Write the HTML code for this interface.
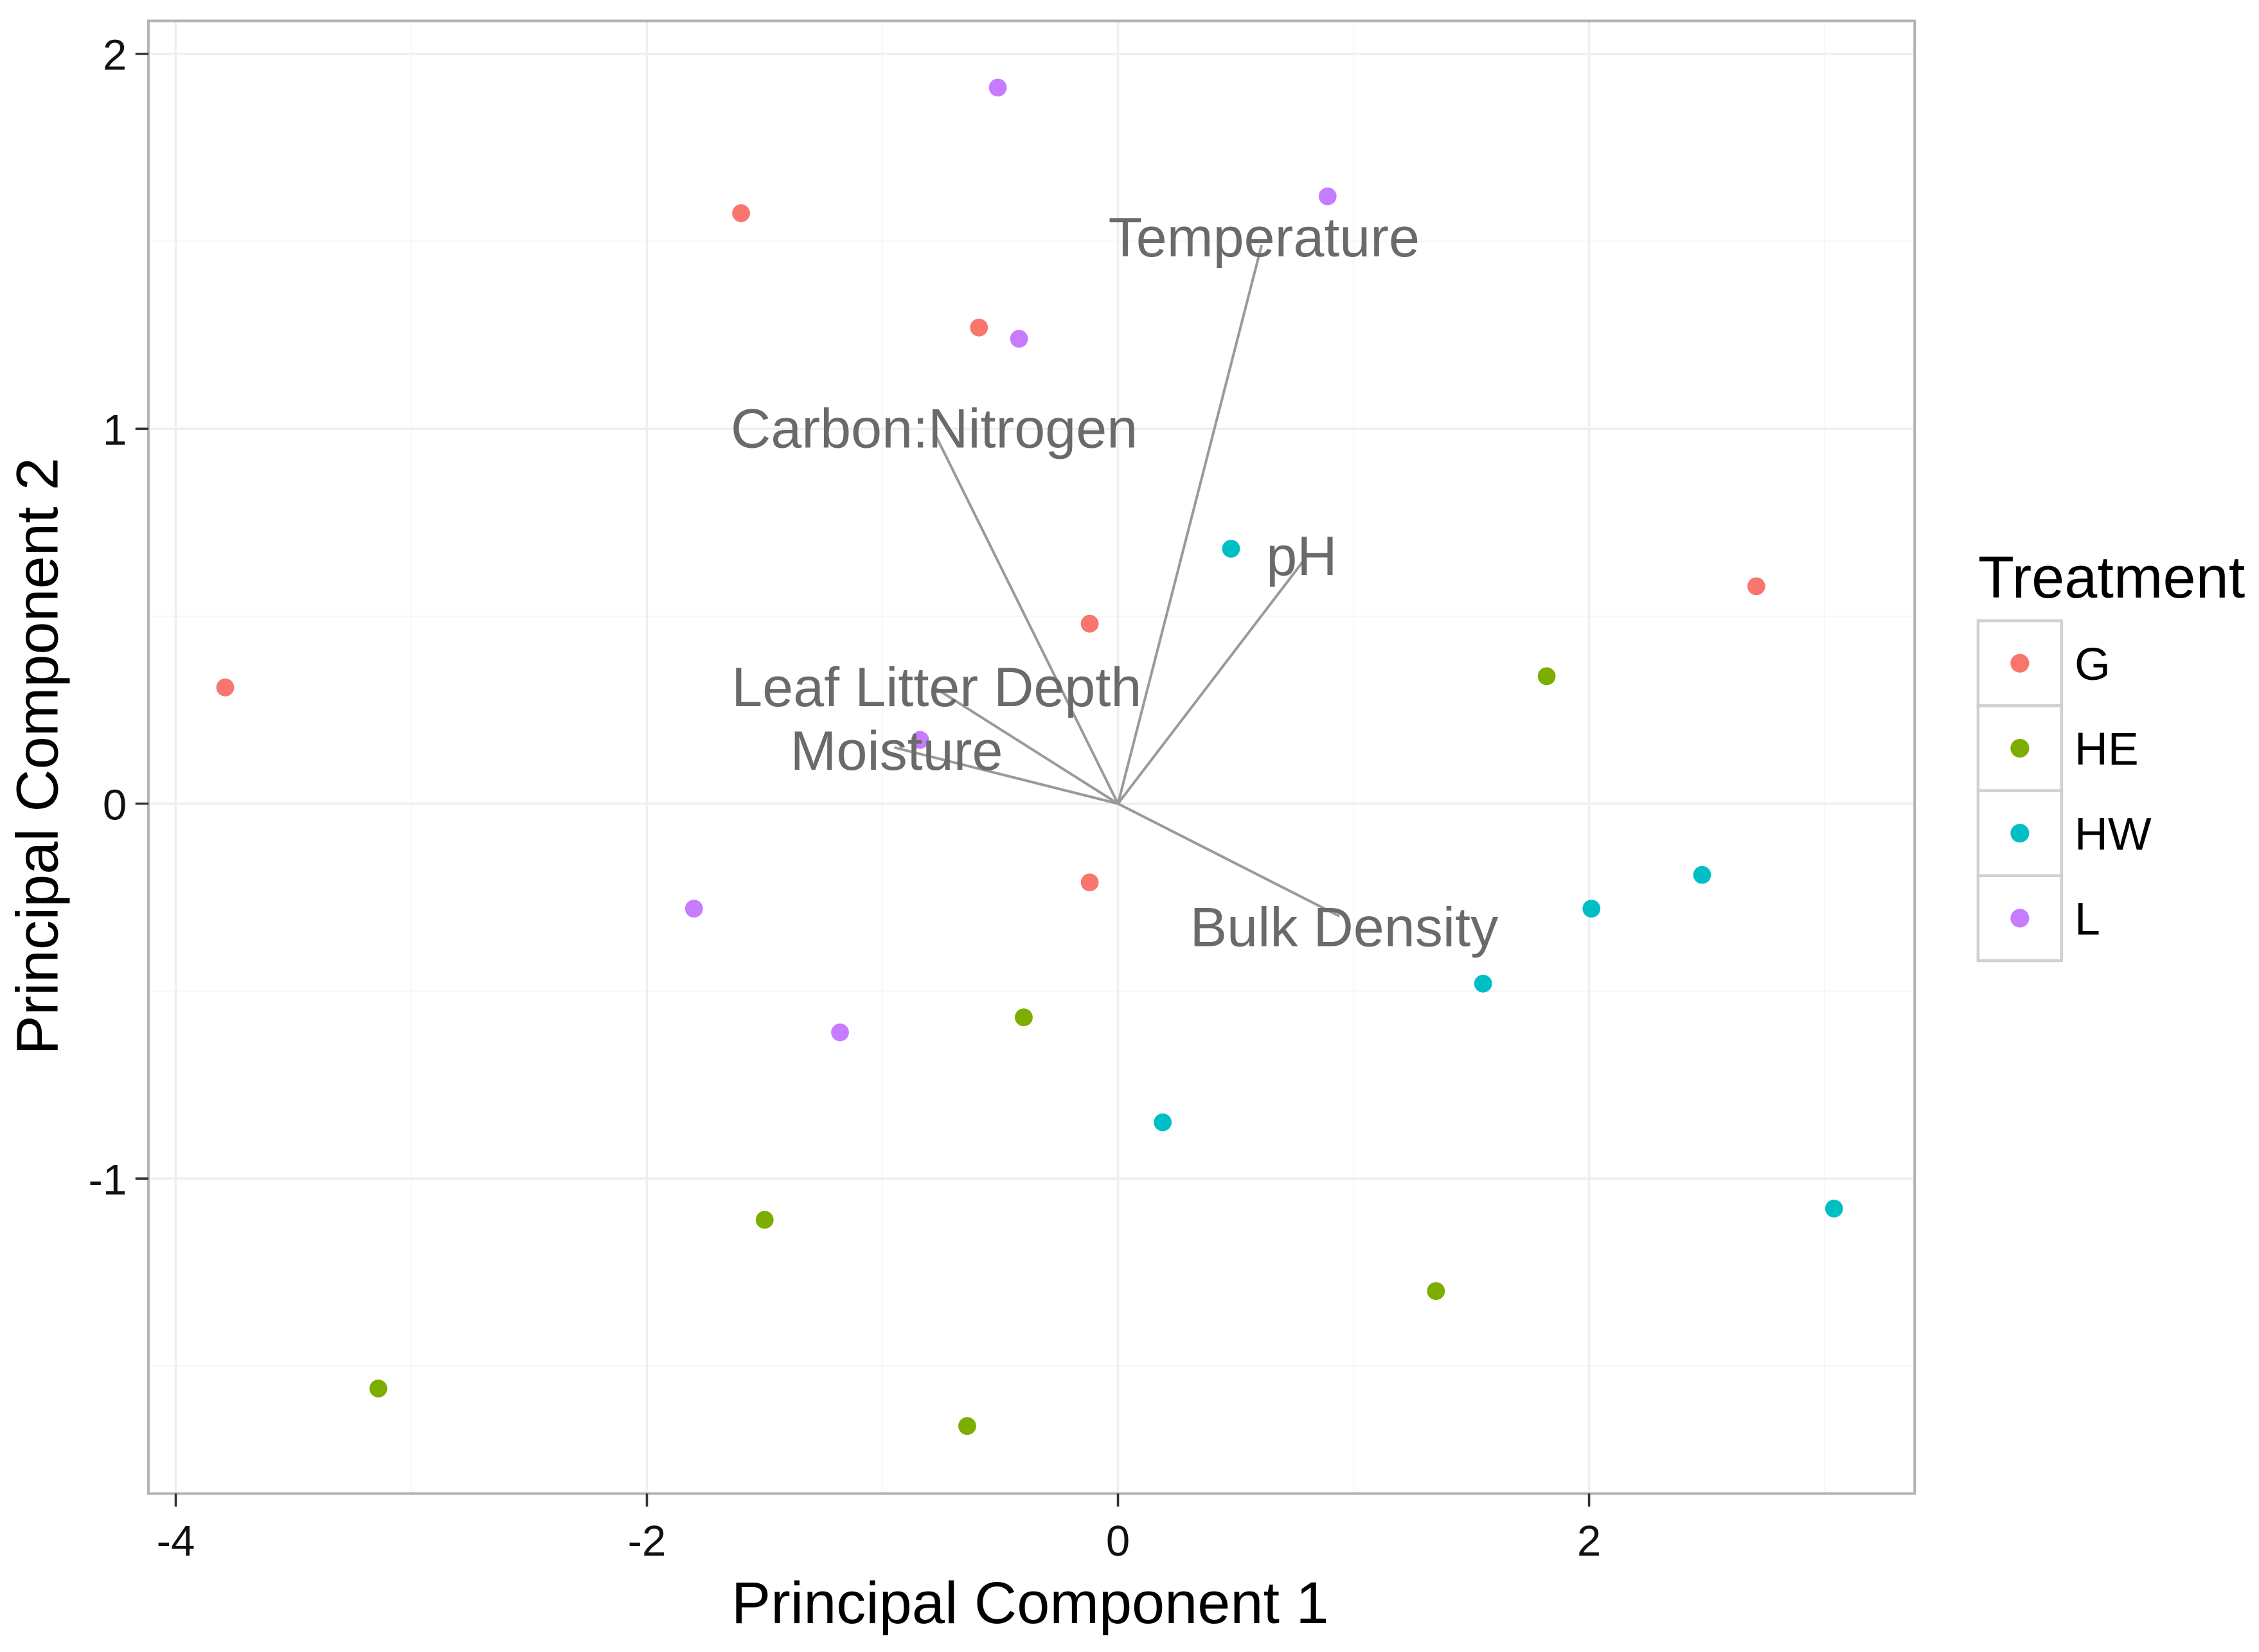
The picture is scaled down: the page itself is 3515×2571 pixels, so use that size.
<!DOCTYPE html>
<html><head><meta charset="utf-8"><style>
html,body{margin:0;padding:0;background:#fff;}
svg{display:block;font-family:"Liberation Sans",Arial,sans-serif;}
</style></head><body>
<svg id="chart" width="3515" height="2571" viewBox="0 0 1568 1147" preserveAspectRatio="none" xmlns="http://www.w3.org/2000/svg">
<g id="grid"></g>
<g id="arrows"></g>
<g id="points"></g>
<g id="labels"></g>
<rect x="103" y="14.5" width="1226" height="1022.5" fill="none" stroke="#b3b3b3" stroke-width="1.8"/>
<g id="axes"></g>
<text x="715" y="1127" font-size="41" text-anchor="middle" fill="#000">Principal Component 1</text>
<text transform="translate(40,525) rotate(-90)" font-size="41" text-anchor="middle" fill="#000">Principal Component 2</text>
<g id="legend"></g>
</svg>
<script>
const NS="http://www.w3.org/2000/svg";
const xTicks=[-4,-2,0,2];
const yTicks=[-1,0,1,2];
const xMinor=[-3,-1,1,3];
const yMinor=[-1.5,-0.5,0.5,1.5];
const groups=["G","HE","HW","L"];
const colors=["#F8766D","#7CAE00","#00BFC4","#C77CFF"];
const ptX=[-1.60,-0.59,-0.12,-3.79,-0.12,2.71, 1.82,-0.40,-1.50,1.35,-3.14,-0.64, 0.48,2.48,2.01,1.55,0.19,3.04, -0.51,0.89,-0.42,-0.84,-1.80,-1.18];
const ptY=[1.575,1.27,0.48,0.31,-0.21,0.58, 0.34,-0.57,-1.11,-1.30,-1.56,-1.66, 0.68,-0.19,-0.28,-0.48,-0.85,-1.08, 1.91,1.62,1.24,0.17,-0.28,-0.61];
const ptG=[0,0,0,0,0,0, 1,1,1,1,1,1, 2,2,2,2,2,2, 3,3,3,3,3,3];
const vars=["Temperature","Carbon:Nitrogen","pH","Leaf Litter Depth","Moisture","Bulk Density"];
const vecX=[0.61,-0.78,0.79,-0.78,-0.95,0.94];
const vecY=[1.49,0.99,0.65,0.31,0.15,-0.30];
const labX=[0.62,-0.78,0.78,-0.77,-0.94,0.96];
const labY=[1.51,1.00,0.66,0.31,0.14,-0.33];

const sx=v=>776+v*163.5;
const sy=v=>558-v*260.3;
function el(t,a,p){const e=document.createElementNS(NS,t);for(const k in a)e.setAttribute(k,a[k]);p.appendChild(e);return e;}
const grid=document.getElementById('grid');
xMinor.forEach(v=>{const l=el('line',{x1:sx(v),x2:sx(v),y1:15,y2:1036,stroke:'#f7f7f7','stroke-width':1},grid);

});
yMinor.forEach(v=>{const l=el('line',{x1:104,x2:1328,y1:sy(v),y2:sy(v),stroke:'#f7f7f7','stroke-width':1},grid);

});
xTicks.forEach(v=>{const l=el('line',{x1:sx(v),x2:sx(v),y1:15,y2:1036,stroke:'#efefef','stroke-width':1.6},grid);

});
yTicks.forEach(v=>{const l=el('line',{x1:104,x2:1328,y1:sy(v),y2:sy(v),stroke:'#efefef','stroke-width':1.6},grid);

});
const axes=document.getElementById('axes');
xTicks.forEach(v=>{const t=el('line',{x1:sx(v),x2:sx(v),y1:1037,y2:1046,stroke:'#333','stroke-width':1.6},axes);


const tx=el('text',{x:sx(v),y:1080,'font-size':30,'text-anchor':'middle',fill:'#111'},axes);tx.textContent=v;

});
yTicks.forEach(v=>{const t=el('line',{x1:94,x2:103,y1:sy(v),y2:sy(v),stroke:'#333','stroke-width':1.6},axes);


const tx=el('text',{x:88,y:sy(v)+11,'font-size':30,'text-anchor':'end',fill:'#111'},axes);tx.textContent=v;

});
const arr=document.getElementById('arrows');
vecX.forEach((v,i)=>{const l=el('line',{x1:sx(0),y1:sy(0),x2:sx(v),y2:sy(vecY[i]),stroke:'#9a9a9a','stroke-width':1.8},arr);

});
const pts=document.getElementById('points');
ptX.forEach((v,i)=>{const c=el('circle',{cx:sx(v),cy:sy(ptY[i]),r:6.2,fill:colors[ptG[i]]},pts);

});
const labs=document.getElementById('labels');
vars.forEach((n,i)=>{const t=el('text',{x:sx(labX[i]),y:sy(labY[i])+13,'font-size':38.5,'text-anchor':'middle',fill:'#6a6a6a'},labs);t.textContent=n;

});
const leg=document.getElementById('legend');
const lt=el('text',{x:1373,y:415,'font-size':41,fill:'#000'},leg);lt.textContent='Treatment';


groups.forEach((g,i)=>{const y0=431+i*59;
const r=el('rect',{x:1373,y:y0,width:58,height:59,fill:'#fff',stroke:'#d0d0d0','stroke-width':2},leg);


const c=el('circle',{cx:1402,cy:y0+29.5,r:6.5,fill:colors[i]},leg);


const t=el('text',{x:1440,y:y0+41,'font-size':32,fill:'#000'},leg);t.textContent=g;

});
</script>
</body></html>
